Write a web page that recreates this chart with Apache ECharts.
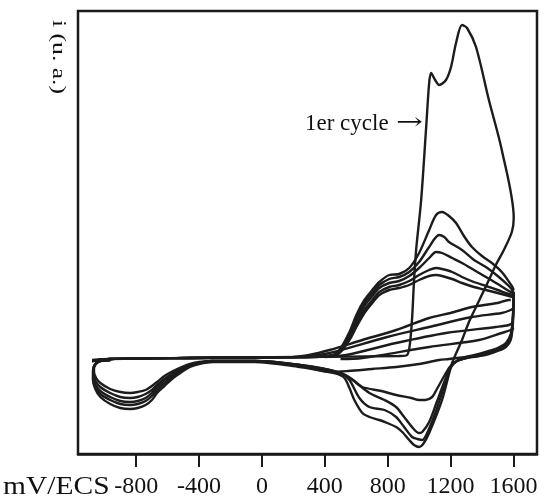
<!DOCTYPE html>
<html><head><meta charset="utf-8">
<script src="https://cdn.jsdelivr.net/npm/echarts@6/dist/echarts.min.js"></script>
<style>html,body{margin:0;padding:0;background:#fff}#c{width:544px;height:501px}</style>
</head><body><div id="c"></div>
<script>
// Potential tick labels (mV/ECS)
const xTicks = [-800, -400, 0, 400, 800, 1200, 1600];
// [E (mV/ECS), i (u. a.)]
// 1er cycle : forward and reverse sweeps
const cycle1 = [[-1080,-2],[-965,-1],[-458,0],[240,1],[873,2],[924,3],[950,28],[968,78],[981,108],[1013,158],[1045,231],[1064,275],[1076,285],[1102,278],[1127,273],[1171,278],[1203,291],[1235,315],[1273,333],[1305,330],[1362,311],[1444,258],[1526,208],[1602,140],
  [1590,126],[1539,108],[1488,93],[1444,78],[1362,51],[1317,36],[1273,18],[1210,-5],[1146,-42],[1064,-75],[1026,-86],[1000,-89],[968,-87],[937,-82],[893,-74],[854,-69],[797,-65],[747,-62],[684,-59],[639,-55],[588,-42],[557,-30],[525,-20],[480,-16],[430,-14],[240,-9],[-46,-4],[-312,-4],[-400,-6],[-458,-9],[-510,-14],[-565,-20],[-620,-28],[-667,-35],[-700,-42],[-740,-47],[-790,-50],[-838,-51],[-901,-50],[-965,-46],[-1028,-39],[-1060,-31],[-1075,-22],[-1075,-13],[-1060,-6],[-1030,-3],[-965,-2]];
// following cycles : forward sweeps
const fwd2 = [[-1080,-3],[-965,-1],[-458,0],[240,1],[430,2],[493,8],[557,26],[601,43],[652,58],[702,68],[747,76],[810,83],[873,84],[937,90],[1000,105],[1064,128],[1108,143],[1146,146],[1190,142],[1235,135],[1285,122],[1336,111],[1400,102],[1463,95],[1526,86],[1590,72],[1602,68]];
const fwd3 = [[-1080,-3],[-965,-1],[-458,0],[240,1],[430,2],[493,7],[557,24],[601,40],[652,55],[702,65],[747,73],[810,79],[873,81],[937,86],[1000,96],[1064,111],[1127,123],[1160,121],[1190,116],[1273,108],[1349,98],[1425,91],[1500,82],[1571,72],[1602,66]];
const fwd4 = [[-1080,-3],[-965,-1],[-458,0],[240,1],[430,2],[493,6],[557,22],[601,37],[652,52],[702,62],[747,70],[810,75],[873,77],[937,82],[1000,90],[1064,100],[1108,106],[1146,105],[1210,100],[1273,95],[1349,88],[1425,81],[1500,74],[1571,67],[1602,65]];
const fwd5 = [[-1080,-3],[-965,-1],[-458,0],[240,1],[430,2],[493,6],[557,20],[601,34],[652,48],[702,58],[747,66],[810,71],[873,73],[937,77],[1000,83],[1064,88],[1108,90],[1146,89],[1210,86],[1273,81],[1349,76],[1425,72],[1500,68],[1571,64],[1602,63]];
const fwd6 = [[-1080,-3],[-965,-1],[-458,0],[240,1],[430,2],[493,5],[557,18],[601,31],[652,45],[702,55],[747,63],[810,68],[873,70],[937,73],[1000,78],[1064,82],[1108,83],[1146,82],[1210,79],[1273,75],[1349,71],[1425,68],[1500,65],[1571,62],[1602,61]];
// following cycles : reverse sweeps
const rev2 = [[1602,66],[1596,40],[1583,24],[1552,15],[1500,10],[1444,7],[1380,4],[1300,1],[1240,-3],[1200,-10],[1160,-28],[1110,-52],[1060,-72],[1019,-82],[990,-81],[956,-79],[900,-68],[854,-59],[780,-52],[684,-49],[620,-40],[557,-22],[510,-16],[430,-13],[240,-8],[-46,-3],[-312,-3],[-400,-5],[-458,-8],[-510,-12],[-565,-18],[-620,-25],[-667,-32],[-700,-38],[-740,-43],[-790,-46],[-838,-47],[-901,-46],[-965,-42],[-1028,-36],[-1060,-28],[-1073,-20],[-1073,-12],[-1058,-6],[-1030,-3],[-965,-2]];
const rev3 = [[1602,65],[1596,38],[1583,22],[1552,14],[1500,9],[1444,6],[1380,3],[1300,0],[1240,-3],[1200,-9],[1160,-24],[1110,-45],[1064,-64],[1020,-74],[1000,-75],[960,-70],[900,-58],[854,-49],[780,-42],[684,-35],[601,-25],[540,-18],[430,-12],[240,-7],[-46,-3],[-312,-3],[-400,-5],[-458,-7],[-510,-11],[-565,-16],[-620,-22],[-667,-29],[-700,-35],[-740,-40],[-790,-43],[-838,-44],[-901,-43],[-965,-39],[-1028,-33],[-1060,-26],[-1072,-18],[-1072,-11],[-1056,-6],[-1030,-3],[-965,-2]];
const rev4 = [[1602,63],[1596,36],[1583,20],[1552,12],[1500,8],[1444,5],[1380,2],[1300,0],[1240,-3],[1200,-8],[1160,-18],[1110,-32],[1083,-39],[1040,-42],[1000,-42],[950,-40],[854,-37],[760,-33],[639,-29],[580,-22],[520,-16],[430,-12],[240,-7],[-46,-3],[-312,-3],[-400,-5],[-458,-7],[-510,-10],[-565,-15],[-620,-21],[-667,-27],[-700,-32],[-740,-36],[-790,-39],[-838,-40],[-901,-39],[-965,-35],[-1028,-29],[-1058,-23],[-1070,-16],[-1070,-10],[-1055,-5],[-1030,-3],[-965,-2]];
const rev5 = [[1602,61],[1596,34],[1583,18],[1552,11],[1500,7],[1444,4],[1380,2],[1300,1],[1240,0],[1190,-1],[1127,-2],[1000,-6],[854,-9],[700,-11],[550,-13],[430,-14],[240,-7],[-46,-3],[-312,-3],[-400,-4],[-458,-6],[-510,-9],[-565,-13],[-620,-18],[-667,-24],[-700,-28],[-740,-32],[-790,-34],[-838,-35],[-901,-34],[-965,-31],[-1028,-25],[-1055,-20],[-1068,-14],[-1068,-9],[-1052,-5],[-1030,-3],[-965,-2]];
const rev6 = [[1583,58],[1571,58],[1500,55],[1336,51],[1200,45],[1064,40],[854,28],[639,18],[430,8],[300,3],[200,1]];
const rev7 = [[1602,50],[1583,48],[1526,45],[1336,41],[1064,31],[797,21],[430,5],[300,2]];
const rev8 = [[1602,36],[1571,33],[1488,31],[1171,25],[854,15],[537,3],[400,1]];
const rev9 = [[1602,30],[1583,28],[1526,25],[1381,18],[1064,11],[639,0],[500,-1]];

const curves = [cycle1, fwd2, fwd3, fwd4, fwd5, fwd6, rev2, rev3, rev4, rev5, rev6, rev7, rev8, rev9];

const chart = echarts.init(document.getElementById('c'), null, {renderer: 'canvas'});
const serif = '"Liberation Serif", "DejaVu Serif", serif';
chart.setOption({
  animation: false,
  backgroundColor: '#fff',
  grid: {left: 78, right: 7, top: 11, bottom: 47, show: true, borderColor: '#1a1a1a', borderWidth: 2.5, backgroundColor: 'transparent'},
  xAxis: {
    type: 'value', min: -1170, max: 1750,
    axisLine: {show: true, onZero: false, lineStyle: {color: '#1a1a1a', width: 2.5}},
    axisTick: {show: true, length: 13, lineStyle: {color: '#1a1a1a', width: 2}, customValues: xTicks},
    axisLabel: {customValues: xTicks, formatter: v => String(v), color: '#111', fontFamily: serif, fontSize: 24, margin: 21},
    splitLine: {show: false}
  },
  yAxis: {
    type: 'value', min: -96, max: 347,
    axisLine: {show: false}, axisTick: {show: false}, axisLabel: {show: false}, splitLine: {show: false}
  },
  series: curves.map(c => ({
    type: 'line', data: c, showSymbol: false, smooth: 0.3, clip: true,
    lineStyle: {color: '#1c1c1c', width: 2.4}
  })),
  graphic: [
    {type: 'text', x: 3, y: 475, scaleX: 1.18, style: {text: 'mV/ECS', font: '25px ' + serif, fill: '#111', verticalAlign: 'top'}},
    {type: 'text', x: 305, y: 112, style: {text: '1er cycle', font: '23px ' + serif, fill: '#111', verticalAlign: 'top'}},
    {type: 'text', x: 396, y: 112, scaleX: 1.4, style: {text: '\u2192', font: '23px "DejaVu Serif", serif', fill: '#111', verticalAlign: 'top'}},
    {type: 'text', x: 67, y: 20, rotation: -Math.PI / 2, scaleX: 1.35, style: {text: 'i (u. a.)', font: '19px ' + serif, fill: '#111', verticalAlign: 'top'}}
  ]
});
</script></body></html>
